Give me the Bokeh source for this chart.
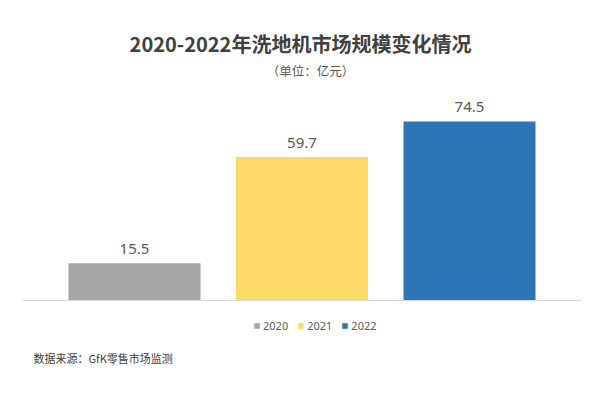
from bokeh.plotting import figure
from bokeh.models import ColumnDataSource, FactorRange, Range1d, Span, Label
from bokeh.core.properties import value
from bokeh.embed import file_html
from bokeh.resources import INLINE

# ---- data ----
years = ["2020", "2021", "2022"]
market_size = [15.5, 59.7, 74.5]          # 亿元
bar_colors = ["#a5a5a5", "#ffd966", "#2e75b6"]
title_text = "2020-2022年洗地机市场规模变化情况"
unit_text = "（单位：亿元）"
source_text = "数据来源：GfK零售市场监测"

src = ColumnDataSource(dict(
    year=years,
    value=market_size,
    color=bar_colors,
    label=[f"{v:.1f}" for v in market_size],
))

CJK = "Noto Sans CJK SC"
LAT = "Noto Sans"

p = figure(
    width=584, height=382,
    x_range=FactorRange(factors=years, range_padding=0.1687, range_padding_units="absolute"),
    y_range=Range1d(-34.13, 124.86),
    output_backend="svg", toolbar_location=None,
    min_border_left=22, min_border_right=3, min_border_top=0, min_border_bottom=0,
)
p.xaxis.visible = False
p.yaxis.visible = False
p.xgrid.visible = False
p.ygrid.visible = False
p.outline_line_color = None
p.background_fill_color = "white"
p.border_fill_color = "white"

p.vbar(x="year", top="value", width=0.788, source=src, color="color",
       line_color=None, legend_field="year")

# baseline axis line
p.add_layout(Span(location=0, dimension="width", line_color="#d9d9d9", line_width=1))

# value labels
p.text(x="year", y="value", text="label", source=src, y_offset=-14,
       text_align="center", text_baseline="middle",
       text_font=value(LAT), text_font_size="15px", text_color="#595959")

# titles and notes
p.add_layout(Label(x=278, y=339, x_units="screen", y_units="screen", text=title_text,
                   text_align="center", text_baseline="middle", text_font=CJK,
                   text_font_style="bold", text_font_size="20px", text_color="#404040"))
p.add_layout(Label(x=288, y=312, x_units="screen", y_units="screen", text=unit_text,
                   text_align="center", text_baseline="middle", text_font=CJK,
                   text_font_size="12.5px", text_color="#595959"))
p.add_layout(Label(x=11, y=25, x_units="screen", y_units="screen", text=source_text,
                   text_align="left", text_baseline="middle", text_font=CJK,
                   text_font_size="11px", text_color="#404040"))

# legend
lg = p.legend[0]
lg.location = (231, 49)
lg.orientation = "horizontal"
lg.border_line_color = None
lg.background_fill_alpha = 0
lg.padding = 0
lg.margin = 0
lg.spacing = 9
lg.glyph_width = 7
lg.glyph_height = 7
lg.label_standoff = 3
lg.label_height = 12
lg.label_text_font = LAT
lg.label_text_font_size = "11px"
lg.label_text_color = "#595959"

open("out.html", "w").write(file_html(p, INLINE))
